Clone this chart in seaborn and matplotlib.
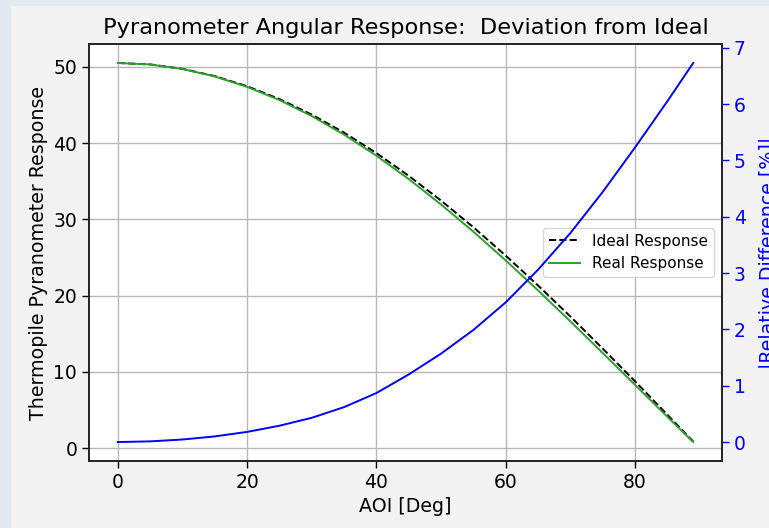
import matplotlib
matplotlib.use("Agg")
import matplotlib.pyplot as plt
import seaborn as sns
import pandas as pd
from matplotlib.patches import Rectangle

aoi = [0, 5, 10, 15, 20, 25, 30, 35, 40, 45, 50, 55, 60, 65, 70, 75, 80, 85, 89]
ideal = [50.5, 50.31, 49.73, 48.78, 47.45, 45.77, 43.73, 41.37, 38.69, 35.71,
         32.46, 28.97, 25.25, 21.34, 17.27, 13.07, 8.77, 4.40, 0.88]
real = [50.5, 50.30, 49.71, 48.73, 47.36, 45.64, 43.54, 41.11, 38.35, 35.28,
        31.95, 28.39, 24.62, 20.69, 16.63, 12.49, 8.31, 4.13, 0.82]
rel_diff = [0.0, 0.012, 0.045, 0.10, 0.18, 0.29, 0.43, 0.62, 0.87, 1.20,
            1.57, 1.99, 2.48, 3.06, 3.71, 4.44, 5.23, 6.05, 6.73]

df = pd.DataFrame({"aoi": aoi, "ideal": ideal, "real": real, "rel": rel_diff})

W, H = 769, 528
fig = plt.figure(figsize=(W / 100, H / 100), dpi=100, facecolor="#f2f2f2")
# outer slide background strips
fig.patches.append(Rectangle((0, 0), 11 / W, 1, transform=fig.transFigure,
                             facecolor="#e3e9f0", edgecolor="none", zorder=-10))
fig.patches.append(Rectangle((0, 1 - 6 / H), 1, 6 / H, transform=fig.transFigure,
                             facecolor="#e3e9f0", edgecolor="none", zorder=-10))

ax = fig.add_axes([89 / W, 1 - 461 / H, (722 - 89) / W, (461 - 44) / H])
ax.set_facecolor("white")

sns.lineplot(data=df, x="aoi", y="ideal", ax=ax, color="black", linestyle="--",
             linewidth=1.4, label="Ideal Response")
sns.lineplot(data=df, x="aoi", y="real", ax=ax, color="#2ca02c", linewidth=1.4,
             label="Real Response")

ax.grid(True, color="#b8b8b8", linewidth=1.0)
ax.set_xlabel("AOI [Deg]", fontsize=13.7)
ax.set_ylabel("Thermopile Pyranometer Response", fontsize=13.7)
ax.tick_params(labelsize=13.5, length=5, width=1)
ax.set_xticks([0, 20, 40, 60, 80])
ax.set_yticks([0, 10, 20, 30, 40, 50])
for s in ax.spines.values():
    s.set_color("#222222")
    s.set_linewidth(1.2)
ax.set_title("Pyranometer Angular Response:  Deviation from Ideal", fontsize=16.2, pad=7)
leg = ax.legend(loc="center right", fontsize=11, framealpha=0.8, edgecolor="#cccccc")

ax2 = ax.twinx()
sns.lineplot(data=df, x="aoi", y="rel", ax=ax2, color="blue", linewidth=1.4)
ax2.set_ylabel("|Relative Difference [%]|", color="blue", fontsize=13.7, labelpad=9)
ax2.tick_params(axis="y", colors="blue", labelsize=13.5, length=5, width=1)
ax2.set_yticks(range(0, 8))
ax2.grid(False)
for s in ax2.spines.values():
    s.set_color("#222222")
    s.set_linewidth(1.2)

fig.savefig("out.png", dpi=100, facecolor=fig.get_facecolor())
